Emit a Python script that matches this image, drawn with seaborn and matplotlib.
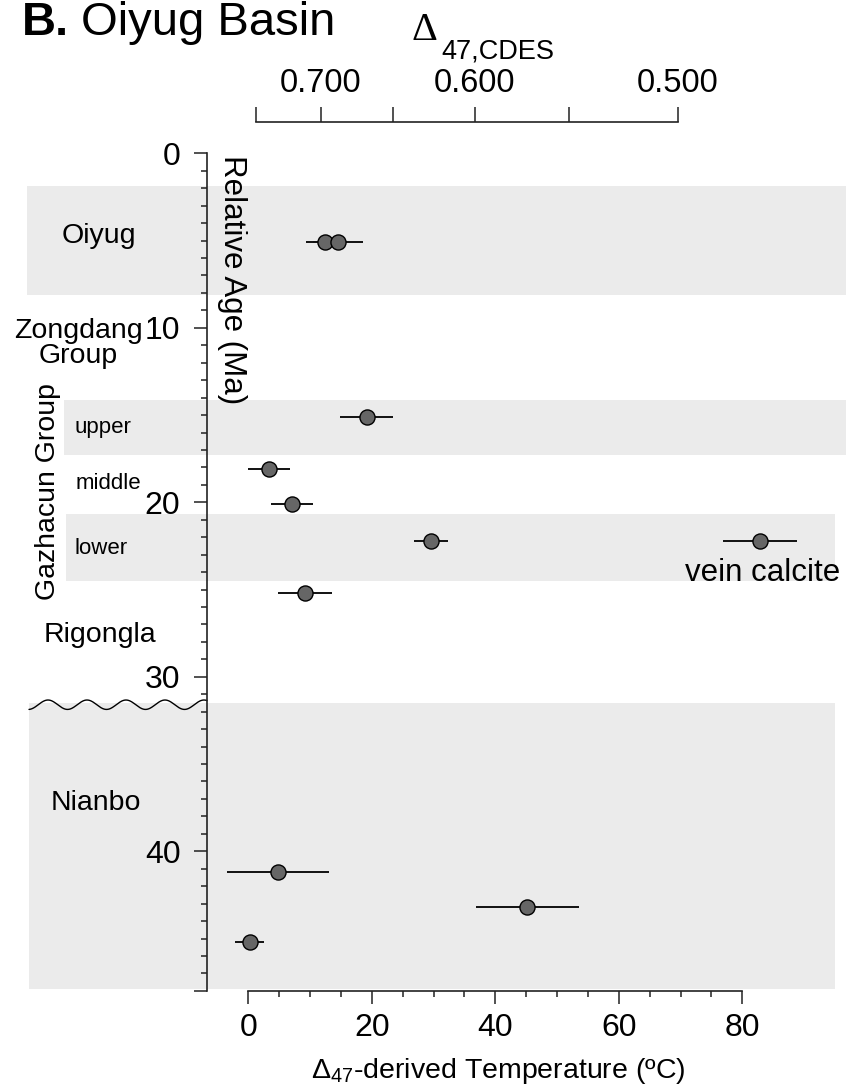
import numpy as np
import pandas as pd
import matplotlib
matplotlib.use("Agg")
import matplotlib.pyplot as plt
import matplotlib.transforms as mtransforms
from matplotlib.patches import Rectangle
from matplotlib.ticker import FixedLocator
import seaborn as sns

# Clumped-isotope temperatures (degC), 1-sigma errors and relative ages (Ma)
sample_temp = [12.5, 14.5, 19.2, 3.4, 7.1, 29.6, 82.9, 9.2, 4.8, 45.2, 0.2]
sample_err = [3.2, 4.1, 4.3, 3.4, 3.4, 2.7, 6.0, 4.4, 8.3, 8.4, 2.4]
sample_age = [5.1, 5.1, 15.1, 18.1, 20.1, 22.2, 22.2, 25.2, 41.2, 43.2, 45.2]

# Shaded stratigraphic intervals (Ma)
unit_names = ["Oiyug", "upper", "lower", "Nianbo"]
unit_top = [1.9, 14.15, 20.65, 31.5]
unit_bottom = [8.1, 17.3, 24.5, 47.9]
unconformity_age = 31.6

# Axis ticks
temp_major = [0, 20, 40, 60, 80]
age_major = [0, 10, 20, 30, 40, 48]
age_labels = ["0", "10", "20", "30", "40", ""]
d47_ticks = [0.750, 0.700, 0.650, 0.600, 0.550, 0.500]
d47_labels = ["", "0.700", "", "0.600", "", "0.500"]

# D47 calibration: D47 = A * 1e6 / T^2 + B  (T in K)
CAL_A, CAL_B = 0.0525, 0.053


def temp_to_d47(t):
    t = np.asarray(t, dtype=float)
    tk = np.clip(t + 273.15, 1.0, None)
    return CAL_A * 1e6 / tk ** 2 + CAL_B


def d47_to_temp(d):
    d = np.asarray(d, dtype=float)
    d = np.clip(d - CAL_B, 1e-6, None)
    return np.sqrt(CAL_A * 1e6 / d) - 273.15


sns.set_theme(style="ticks")
plt.rcParams["font.family"] = ["Liberation Sans", "DejaVu Sans"]
plt.rcParams["mathtext.fontset"] = "custom"
plt.rcParams["mathtext.rm"] = "Liberation Sans"
plt.rcParams["mathtext.it"] = "Liberation Sans:italic"
for key in ["text.color", "axes.labelcolor", "xtick.color", "ytick.color"]:
    plt.rcParams[key] = "black"

W, H = 846, 1089
fig = plt.figure(figsize=(W / 100, H / 100), dpi=100)
fig.patch.set_facecolor("white")

# plot frame in pixels
x_left, x_right = 207, 846
y_top, y_bot = 153.3, 990.9
ax = fig.add_axes([x_left / W, 1 - y_bot / H, (x_right - x_left) / W, (y_bot - y_top) / H])
ax.set_facecolor("none")

px_per_deg = 6.175
x_zero = 248.3
xlim = ((x_left - x_zero) / px_per_deg, (x_right - x_zero) / px_per_deg)

df = pd.DataFrame({"temp": sample_temp, "err": sample_err, "age": sample_age})

# shaded intervals extend past the left spine into the label column
band_left_px = [27, 64, 66, 29]
band_right_px = [846, 846, 835, 835]
blend = mtransforms.blended_transform_factory(fig.transFigure, ax.transData)
for top, bot, lpx, rpx in zip(unit_top, unit_bottom, band_left_px, band_right_px):
    ax.add_patch(Rectangle((lpx / W, top), (rpx - lpx) / W, bot - top,
                           transform=blend, facecolor="#EBEBEB", edgecolor="none",
                           clip_on=False, zorder=0))

# unconformity: wavy line across the label column
wx = np.linspace(29, 207, 400)
wy = unconformity_age - 0.27 * np.cos(2 * np.pi * (wx - 87) / 39)
ax.plot(wx / W, wy, transform=blend, color="black", lw=1.0, clip_on=False, zorder=1)

ax.errorbar(df["temp"], df["age"], xerr=df["err"], fmt="none",
            ecolor="#111111", elinewidth=1.4, capsize=0, zorder=2)
sns.scatterplot(data=df, x="temp", y="age", color="#666666", edgecolor="black",
                linewidth=1.0, s=118, zorder=3, ax=ax, legend=False)

ax.set_xlim(*xlim)
ax.set_ylim(48, 0)
ax.set_xlabel("")
ax.set_ylabel("")

for side in ["top", "right"]:
    ax.spines[side].set_visible(False)
ax.spines["left"].set_bounds(0, 48)
ax.spines["bottom"].set_bounds(0, 80)
for side in ["left", "bottom"]:
    ax.spines[side].set_linewidth(1.2)
    ax.spines[side].set_color("#222222")

ax.xaxis.set_major_locator(FixedLocator(temp_major))
ax.xaxis.set_minor_locator(FixedLocator([v for v in range(0, 81, 5) if v % 20]))
ax.yaxis.set_major_locator(FixedLocator(age_major))
ax.set_yticklabels(age_labels)
ax.yaxis.set_minor_locator(FixedLocator([v for v in range(0, 49) if v not in age_major]))

ax.tick_params(axis="x", which="major", direction="out", length=9.6, width=1.1,
               color="#222222", pad=6, labelsize=23)
ax.tick_params(axis="x", which="minor", direction="out", length=4.3, width=1.1, color="#222222")
ax.tick_params(axis="y", which="major", direction="out", length=9.1, width=1.1,
               color="#222222", pad=10, labelsize=23)
ax.tick_params(axis="y", which="minor", direction="out", length=4.1, width=1.1, color="#222222")

# secondary D47 scale above the plot
sec = ax.secondary_xaxis(1 + (y_top - 121.7) / (y_bot - y_top),
                         functions=(temp_to_d47, d47_to_temp))
sec.set_xticks(d47_ticks)
sec.set_xticklabels(d47_labels)
sec.spines["top"].set_bounds(min(d47_ticks), max(d47_ticks))
sec.spines["top"].set_linewidth(1.2)
sec.spines["top"].set_color("#222222")
sec.tick_params(axis="x", direction="out", length=10.5, width=1.1, color="#222222",
                pad=6, labelsize=23.5)


def ftext(xp, yp, s, **kw):
    return fig.text(xp / W, 1 - yp / H, s, **kw)


# titles and axis titles
ftext(22, 35, "B.", fontsize=34, fontweight="bold", va="baseline", ha="left")
ftext(81, 35, "Oiyug Basin", fontsize=34, va="baseline", ha="left")
ftext(411, 40, "\u0394", family=["Liberation Serif", "DejaVu Serif"], fontsize=29,
      va="baseline", ha="left")
ftext(441, 58, "47,CDES", fontsize=19.5, va="baseline", ha="left")
ftext(498, 1078, "$\\mathregular{\u0394_{47}}$-derived Temperature (ºC)",
      fontsize=20.5, va="baseline", ha="center")
ftext(232, 155, "Relative Age (Ma)", fontsize=22.5, rotation=270, ha="center", va="top")

# stratigraphic unit names
ftext(99, 243, "Oiyug", fontsize=20.5, ha="center", va="baseline")
ftext(78, 318, "Zongdang\nGroup", fontsize=20.5, ha="center", va="top",
      multialignment="center", linespacing=0.95)
ftext(103, 433, "upper", fontsize=16, ha="center", va="baseline")
ftext(108, 489, "middle", fontsize=16, ha="center", va="baseline")
ftext(101, 554, "lower", fontsize=16, ha="center", va="baseline")
ftext(100, 642, "Rigongla", fontsize=20.5, ha="center", va="baseline")
ftext(96, 810, "Nianbo", fontsize=20.5, ha="center", va="baseline")
ftext(48, 492, "Gazhacun Group", fontsize=20.5, rotation=90, ha="center", va="center")
ftext(840, 581, "vein calcite", fontsize=22.5, ha="right", va="baseline")

fig.savefig("out.png", dpi=100)
